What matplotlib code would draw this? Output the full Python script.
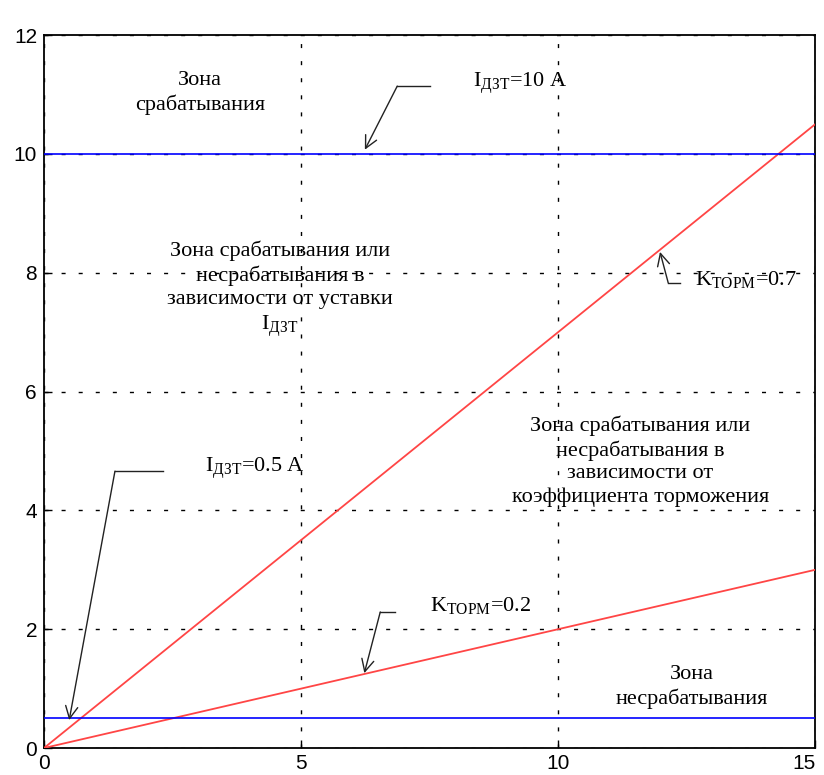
import numpy as np
import matplotlib.pyplot as plt

plt.rcParams['mathtext.fontset'] = 'custom'
plt.rcParams['mathtext.rm'] = 'Liberation Serif'

# тормозная характеристика ДЗТ
i_torm = [0, 15]              # ток торможения
k_torm = [0.7, 0.2]           # коэффициенты торможения
i_dzt = [10, 0.5]             # уставки срабатывания, А

x_ticks = [0, 5, 10, 15]
y_ticks = [0, 2, 4, 6, 8, 10, 12]

serif = 'Liberation Serif'
fs = 16

fig = plt.figure(figsize=(8.24, 7.75), dpi=100)
ax = fig.add_axes([0.0534, 0.0348, 0.936, 0.920])

x = np.array(i_torm, dtype=float)
for k in k_torm:
    ax.plot(x, k * x, color='#ff4545', lw=1.3, zorder=3)
for lvl in i_dzt:
    ax.axhline(lvl, color='#0000ff', lw=1.2, zorder=3)

ax.set_xlim(0, 15)
ax.set_ylim(0, 12)
ax.set_xticks(x_ticks)
ax.set_yticks(y_ticks)
ax.grid(True, color='black', linestyle=(0, (2.9, 9.4)), lw=1.0)
ax.tick_params(direction='in', length=6, labelsize=15, width=1)
ax.tick_params(axis='x', pad=4)
ax.tick_params(axis='y', pad=5)
for lab in ax.get_xticklabels() + ax.get_yticklabels():
    lab.set_family('Liberation Sans')
ax.get_xticklabels()[-1].set_ha('right')
for sp in ax.spines.values():
    sp.set_linewidth(1.3)


def callout(pts, tip):
    # ломаная выноска со стрелкой на конце
    xs, ys = zip(*pts)
    ax.plot(xs, ys, color='#222222', lw=1.0, zorder=4)
    ax.annotate('', xy=tip, xytext=pts[-1],
                arrowprops=dict(arrowstyle='->', color='#222222', lw=1.0,
                                mutation_scale=22, shrinkA=0, shrinkB=0),
                zorder=4)


txt = dict(family=serif, fontsize=fs, ha='center', va='center', linespacing=1.27)

ax.text(3.03, 11.03, 'Зона\nсрабатывания', **txt)
ax.text(4.59, 7.71, 'Зона срабатывания или\nнесрабатывания в\nзависимости от уставки\n'
        r'$\mathregular{I_{ДЗТ}}$', **txt)
ax.text(11.6, 4.83, 'Зона срабатывания или\nнесрабатывания в\nзависимости от\n'
        'коэффициента торможения', **txt)
ax.text(12.6, 1.03, 'Зона\nнесрабатывания', **txt)

lab = dict(family=serif, fontsize=fs, ha='left', va='baseline')
ax.text(8.35, 11.13, r'$\mathregular{I_{ДЗТ}}$=10 A', **lab)
ax.text(12.67, 7.79, r'$\mathregular{K_{ТОРМ}}$=0.7', **lab)
ax.text(3.13, 4.65, r'$\mathregular{I_{ДЗТ}}$=0.5 A', **lab)
ax.text(7.51, 2.31, r'$\mathregular{K_{ТОРМ}}$=0.2', **lab)

callout([(7.51, 11.14), (6.87, 11.14)], (6.24, 10.07))
callout([(12.37, 7.83), (12.14, 7.83)], (11.98, 8.35))
callout([(2.31, 4.66), (1.38, 4.66)], (0.49, 0.47))
callout([(6.83, 2.29), (6.54, 2.29)], (6.23, 1.26))

fig.savefig('out.png', dpi=100)
